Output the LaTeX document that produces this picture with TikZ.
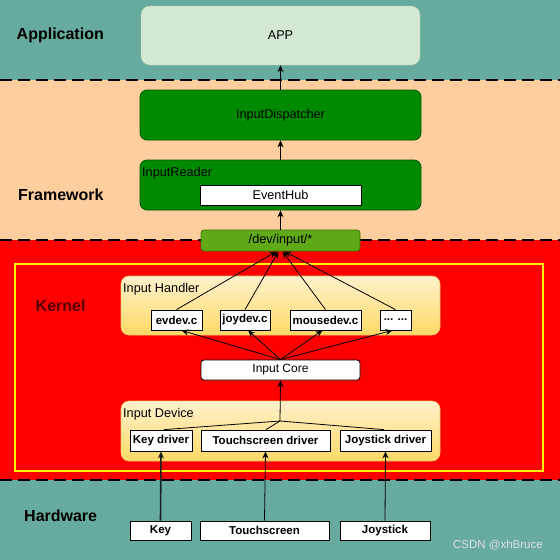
\documentclass[tikz,border=0pt]{standalone}
\usepackage{fontspec}
\setmainfont{Liberation Sans}
\usetikzlibrary{arrows.meta,calc}
\definecolor{teal}{HTML}{67AB9F}
\definecolor{peach}{HTML}{FFCE9F}
\definecolor{appfill}{HTML}{D5E8D4}
\definecolor{appdraw}{HTML}{B9D3A8}
\definecolor{dgreen}{HTML}{008A00}
\definecolor{dgreendraw}{HTML}{005700}
\definecolor{lgreen}{HTML}{60A917}
\definecolor{lgreendraw}{HTML}{2D7600}
\definecolor{ytop}{HTML}{FFF2CC}
\definecolor{ybot}{HTML}{FFD966}
\definecolor{ydraw}{HTML}{E6C46A}
\begin{document}
\begin{tikzpicture}[x=1pt,y=-1pt,font=\fontsize{12.7}{15}\selectfont,
  layerlabel/.style={font=\fontsize{16}{19}\selectfont\bfseries,anchor=west,inner sep=0},
  wbox/.style={draw=black,fill=white,inner sep=0,line width=0.8pt},
  bbox/.style={wbox,font=\fontsize{11.5}{14}\selectfont\bfseries},
  greenbox/.style={draw=dgreendraw,fill=dgreen,rounded corners=7pt,inner sep=0,line width=0.8pt},
  container/.style={draw=ydraw,top color=ytop,bottom color=ybot,rounded corners=8pt,inner sep=0,line width=0.6pt},
  sublabel/.style={anchor=west,inner sep=0},
  sep/.style={line width=2pt,dash pattern=on 12pt off 6pt},
  arr/.style={line width=0.8pt,-{Stealth[length=7pt,width=6pt]}}]
\useasboundingbox (0,0) rectangle (560,560);
% bands
\fill[teal] (0,0) rectangle (560,80);
\fill[peach] (0,80) rectangle (560,240);
\fill[red] (0,240) rectangle (560,480);
\fill[teal] (0,480) rectangle (560,560);
\draw[sep] (0,80) -- (560,80);
\draw[sep] (0,240) -- (560,240);
\draw[sep] (0,480) -- (560,480);
\draw[yellow,line width=2pt] (15,264) rectangle (543,471);
% layer labels
\node[layerlabel] (lapp) at (16.5,35) {Application};
\node[layerlabel] (lfw) at (18,195) {Framework};
\node[layerlabel,text=black!68!red] (lk) at (35.5,306) {Kernel};
\node[layerlabel] (lhw) at (24,516) {Hardware};
% application / framework
\node[draw=appdraw,fill=appfill,rounded corners=9pt,minimum width=279,minimum height=59,inner sep=0] (app) at (280.5,35.5) {APP};
\node[greenbox,minimum width=281,minimum height=50] (disp) at (280.5,115) {InputDispatcher};
\node[greenbox,minimum width=281,minimum height=50] (reader) at (280.5,185) {};
\node[sublabel] (readerlbl) at (142,173) {InputReader};
\node[wbox,minimum width=161,minimum height=20] (hub) at (280.5,195) {EventHub};
\node[draw=lgreendraw,fill=lgreen,rounded corners=3pt,minimum width=159,minimum height=21,inner sep=0,line width=0.8pt] (dev) at (280.5,240.5) {/dev/input/*};
% input handler
\node[container,minimum width=319,minimum height=59] (handler) at (280.5,305.5) {};
\node[sublabel] (handlerlbl) at (123,289) {Input Handler};
\node[bbox,minimum width=51,minimum height=20] (ev) at (176.5,320) {evdev.c};
\node[bbox,minimum width=50,minimum height=20] (joy) at (245,320) {joydev.c};
\node[bbox,minimum width=71,minimum height=20] (mouse) at (325.5,320) {mousedev.c};
\node[bbox,minimum width=31,minimum height=20] (dots) at (395.5,320) {.{}.{}.{} .{}.{}.};
\node[wbox,rounded corners=3pt,minimum width=159,minimum height=20,font=\fontsize{12}{14}\selectfont] (core) at (280.5,370) {Input Core};
% input device
\node[container,minimum width=319,minimum height=60] (device) at (280.5,431) {};
\node[sublabel] (devicelbl) at (123,414) {Input Device};
\node[bbox,minimum width=62,minimum height=21] (kd) at (161,440.5) {Key driver};
\node[bbox,minimum width=129,minimum height=21] (td) at (265.5,440.5) {Touchscreen driver};
\node[bbox,minimum width=91,minimum height=21] (jd) at (385.5,440.5) {Joystick driver};
% hardware
\node[bbox,minimum width=61,minimum height=19] (key) at (160.5,530.5) {Key};
\node[bbox,minimum width=129,minimum height=19] (ts) at (264.5,530.5) {Touchscreen};
\node[bbox,minimum width=90,minimum height=19] (js) at (385,530.5) {Joystick};
\node[text=white!88!black,font=\fontsize{11.5}{13}\selectfont,anchor=east,inner sep=0] (wm) at (543,545) {CSDN @xhBruce};
% connectors
\draw[arr] (disp.north) -- (app.south);
\draw[arr] (reader.north) -- (disp.south);
\draw[arr] (dev.north) -- (reader.south);
\draw[arr] (ev.north) -- ($(dev.south)+(-4,0)$);
\draw[arr] (joy.north) -- ($(dev.south)+(-2,0)$);
\draw[arr] (mouse.north) -- ($(dev.south)+(2,0)$);
\draw[arr] (dots.north) -- ($(dev.south)+(4,0)$);
\draw[arr] (core.north) -- ($(ev.south)+(5,0)$);
\draw[arr] (core.north) -- ($(joy.south)+(3,0)$);
\draw[arr] (core.north) -- ($(mouse.south)+(-3,0)$);
\draw[arr] (core.north) -- ($(dots.south)+(-3,0)$);
\coordinate (junc) at (280,421);
\draw[line width=0.8pt] ($(kd.north)+(3,0)$) -- (junc);
\draw[line width=0.8pt] ($(td.north)+(0.5,0)$) -- (junc);
\draw[line width=0.8pt] ($(jd.north)+(-1.5,0)$) -- (junc);
\draw[arr] (junc) -- (core.south);
\draw[arr,line width=1.6pt,black!80!teal] (key.north) -- (kd.south);
\draw[arr] (ts.north) -- (td.south);
\draw[arr] (js.north) -- (jd.south);
\end{tikzpicture}
\end{document}
